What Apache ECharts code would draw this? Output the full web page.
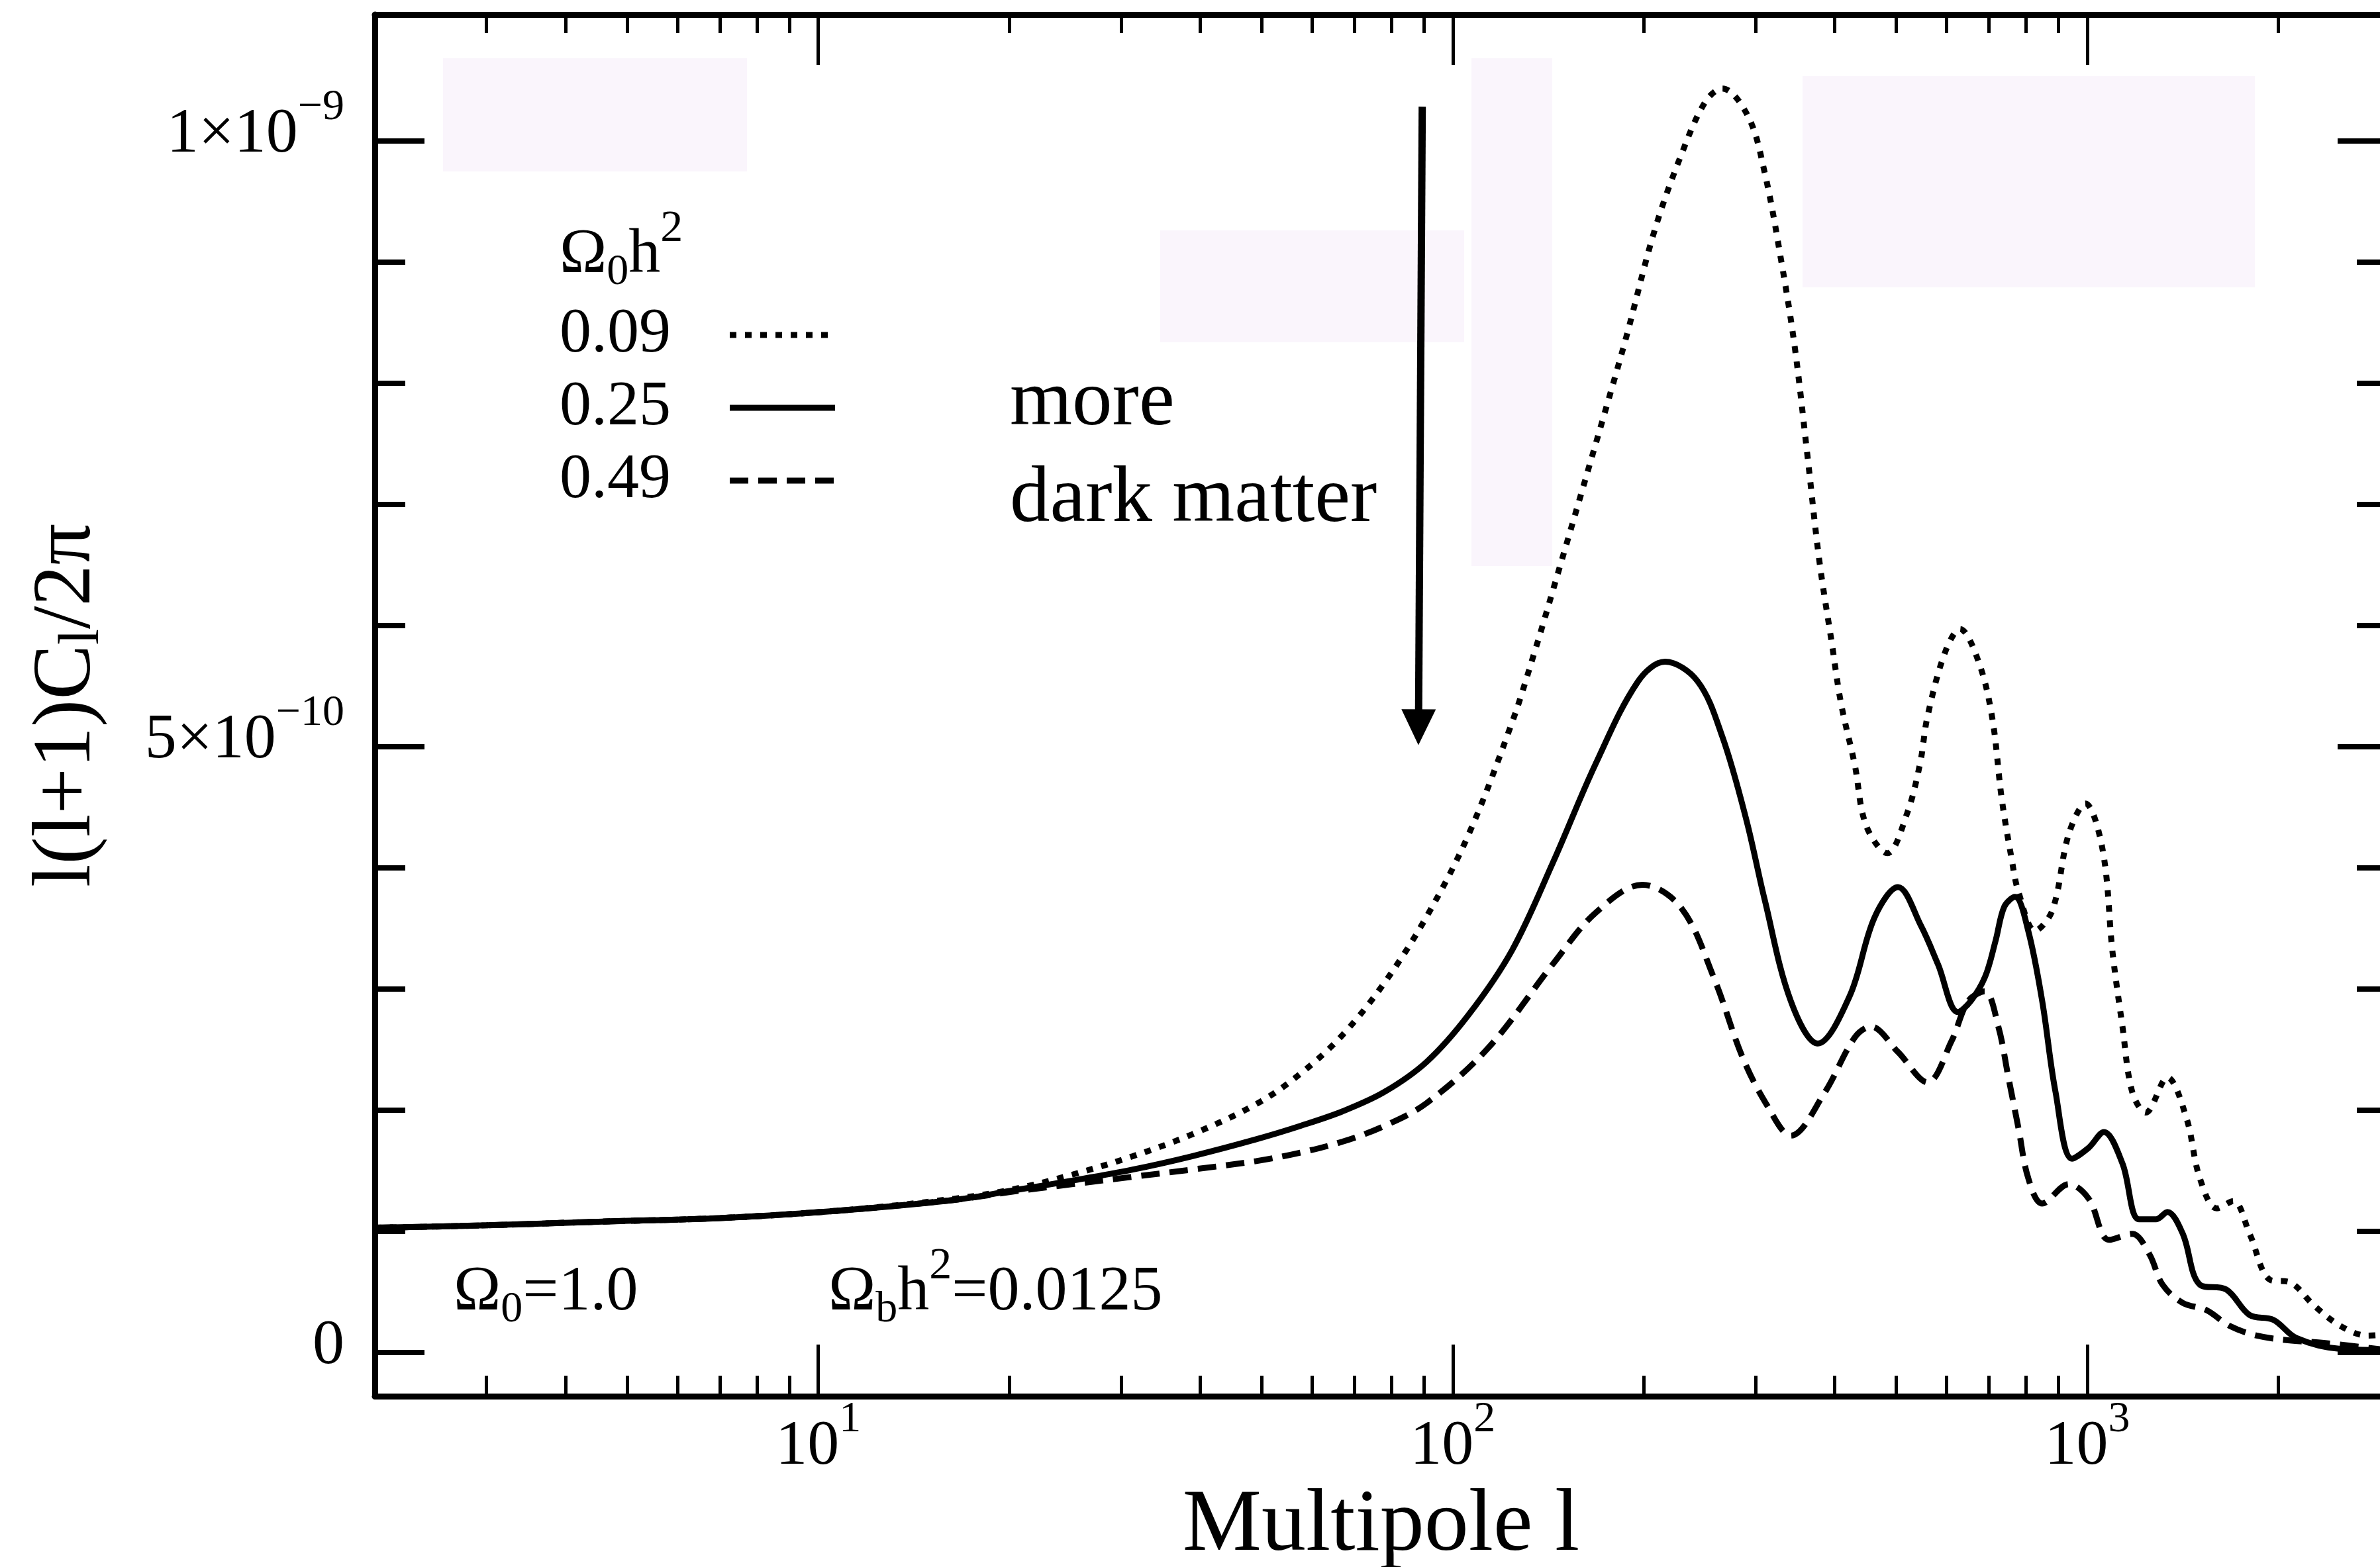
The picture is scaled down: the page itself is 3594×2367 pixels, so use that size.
<!DOCTYPE html>
<html><head><meta charset="utf-8">
<script src="https://cdn.jsdelivr.net/npm/echarts@6/dist/echarts.min.js"></script>
<style>html,body{margin:0;padding:0;background:#fff}#c{width:3594px;height:2367px}</style>
</head><body><div id="c"></div>
<script>
const FONT = '"Liberation Serif","Times New Roman",serif';

// ---- data: multipole l, l(l+1)C_l/2pi in units of 1e-10 ----
const seriesNames = ['0.09', '0.25', '0.49'];
const curve009 = [[2,1.03],[3,1.05],[4.5,1.08],[7,1.11],[10.7,1.17],[16.4,1.27],[20.4,1.35],[25.2,1.47],[31.3,1.62],[38.8,1.8],[49,2.05],[57.5,2.3],[67,2.62],[78,3.05],[91,3.6],[106,4.28],[124,5.2],[134,5.75],[144,6.3],[168,7.5],[187,8.35],[208,9.26],[229,9.88],[250,10.32],[266,10.43],[292,10.2],[310,9.74],[330,8.98],[346,8.29],[362,7.41],[378,6.54],[396,5.84],[409,5.36],[430,4.85],[448,4.35],[484,4.12],[520,4.45],[545,4.86],[560,5.25],[597,5.78],[630,5.97],[674,5.7],[708,5.24],[733,4.57],[760,4.07],[779,3.8],[827,3.48],[881,3.65],[935,4.28],[993,4.53],[1057,4.15],[1096,3.3],[1136,2.69],[1177,2.15],[1236,1.98],[1337,2.27],[1432,1.94],[1504,1.44],[1600,1.19],[1699,1.25],[1802,0.98],[1941,0.6],[2085,0.58],[2275,0.39],[2505,0.22],[2765,0.14],[2970,0.15]];
const curve025 = [[2,1.03],[3,1.05],[4.5,1.08],[7,1.11],[10.7,1.17],[16.4,1.26],[20.4,1.34],[25.2,1.42],[31.3,1.51],[38.8,1.62],[49,1.76],[57.5,1.87],[67,1.99],[78,2.15],[91,2.4],[106,2.79],[124,3.32],[144,4.05],[168,4.86],[196,5.54],[216,5.7],[243,5.54],[266,5.08],[290,4.4],[310,3.74],[341,2.9],[376,2.55],[422,2.94],[462,3.59],[503,3.84],[547,3.52],[582,3.2],[625,2.81],[655,2.9],[690,3.1],[717,3.4],[740,3.68],[769,3.76],[807,3.48],[849,2.9],[891,2.15],[946,1.6],[1005,1.69],[1062,1.82],[1136,1.56],[1206,1.1],[1284,1.1],[1337,1.16],[1414,0.98],[1504,0.56],[1656,0.52],[1802,0.31],[1965,0.27],[2136,0.12],[2505,0.03],[2970,0.02]];
const curve049 = [[2,1.03],[3,1.05],[4.5,1.08],[7,1.11],[10.7,1.17],[16.4,1.26],[20.4,1.33],[25.2,1.39],[31.3,1.45],[38.8,1.51],[49,1.58],[57.5,1.65],[67,1.74],[78,1.87],[91,2.06],[114,2.52],[144,3.21],[168,3.63],[199,3.86],[229,3.67],[258,3.09],[286,2.44],[312,2.05],[341,1.79],[385,2.14],[430,2.6],[456,2.69],[503,2.48],[560,2.23],[611,2.57],[649,2.9],[689,2.98],[724,2.69],[751,2.27],[779,1.85],[807,1.44],[849,1.23],[935,1.39],[1005,1.27],[1082,0.93],[1177,0.98],[1253,0.81],[1314,0.56],[1414,0.41],[1541,0.35],[1676,0.22],[1849,0.14],[2085,0.1],[2358,0.08],[2970,0.02]];

// ---- axes / ticks ----
const xMin = 2, xMax = 2970;
const yMin = -0.36, yMax = 11.04;
const xMajorTicks = [10, 100, 1000];
const xMinorTicks = [2,3,4,5,6,7,8,9,20,30,40,50,60,70,80,90,200,300,400,500,600,700,800,900,2000];
const yMajorTicks = [0, 5, 10];
const yMinorTicks = [1,2,3,4,6,7,8,9];
const yTickMantissa = ['0', '5×10', '1×10'];
const yTickExponent = ['', '−10', '−9'];
const arrowFrom = [89.5, 10.28];
const arrowTo = [88.3, 5.16];

const chart = echarts.init(document.getElementById('c'), null, {renderer: 'canvas', width: 3594, height: 2367});

function xAx(pos, ticks, len, showLine, showLabel) {
  return {
    type: 'log', logBase: 10, position: pos, min: xMin, max: xMax, gridIndex: 0,
    axisLine: {show: showLine, onZero: false, lineStyle: {color: '#000', width: 9}},
    axisTick: {show: true, inside: true, length: len, customValues: ticks, lineStyle: {color: '#000', width: 5}},
    axisLabel: {
      show: showLabel, customValues: xMajorTicks, margin: 3,
      formatter: v => '{b|10}{s|' + Math.round(Math.log10(v)) + '}',
      rich: {
        b: {fontSize: 96, fontFamily: FONT, color: '#000'},
        s: {fontSize: 66, fontFamily: FONT, color: '#000', padding: [0, 0, 82, 0]}
      }
    },
    splitLine: {show: false}, minorTick: {show: false}, minorSplitLine: {show: false}
  };
}
function yAx(pos, ticks, len, showLine, showLabel) {
  return {
    type: 'value', position: pos, min: yMin, max: yMax, gridIndex: 0,
    axisLine: {show: showLine, onZero: false, lineStyle: {color: '#000', width: 9}},
    axisTick: {show: true, inside: true, length: len, customValues: ticks, lineStyle: {color: '#000', width: 8}},
    axisLabel: {
      show: showLabel, customValues: yMajorTicks, margin: 46,
      formatter: v => {
        const i = yMajorTicks.indexOf(Math.round(v));
        return yTickExponent[i] ? '{b|' + yTickMantissa[i] + '}{s|' + yTickExponent[i] + '}' : '{b|' + yTickMantissa[i] + '}';
      },
      rich: {
        b: {fontSize: 96, fontFamily: FONT, color: '#000', padding: [0, 0, 18, 0]},
        s: {fontSize: 66, fontFamily: FONT, color: '#000', padding: [0, 0, 100, 0]}
      }
    },
    splitLine: {show: false}
  };
}

const yName = Object.assign(yAx('left', yMajorTicks, 75, true, true), {
  name: '{a|l(l+1)C}{s|l}{a|/2π}',
  nameLocation: 'middle', nameRotate: 90, nameGap: 398,
  nameTextStyle: {
    fontSize: 124, fontFamily: FONT, color: '#000',
    rich: {
      a: {fontSize: 124, fontFamily: FONT, color: '#000'},
      s: {fontSize: 86, fontFamily: FONT, color: '#000', padding: [46, 0, 0, 0]}
    }
  }
});
const xName = Object.assign(xAx('bottom', xMajorTicks, 78, true, true), {
  name: 'Multipole l', nameLocation: 'middle', nameGap: 126,
  nameTextStyle: {fontSize: 134, fontFamily: FONT, color: '#000'}
});

const annRich = {
  a: {fontSize: 96, fontFamily: FONT, fill: '#000'},
  sub: {fontSize: 66, fontFamily: FONT, fill: '#000', padding: [52, 0, 0, 0]},
  sup: {fontSize: 68, fontFamily: FONT, fill: '#000', padding: [0, 0, 80, 0]}
};
function ann(x, y, text) {
  return {type: 'text', x: x, y: y, z: 10, silent: true,
    style: {text: text, rich: annRich, fontSize: 96, fontFamily: FONT, fill: '#000', align: 'left', verticalAlign: 'middle'}};
}
const PINK = '#faf5fc';
function rect(x1, y1, x2, y2) {
  return {type: 'rect', z: -10, silent: true, shape: {x: x1, y: y1, width: x2 - x1, height: y2 - y1}, style: {fill: PINK}};
}

function lineSeries(name, data, type, width) {
  return {
    name: name, type: 'line', data: data, xAxisIndex: 0, yAxisIndex: 0,
    smooth: 0.35, symbol: 'none', showSymbol: false, clip: true,
    emphasis: {disabled: true},
    itemStyle: {color: '#000'},
    lineStyle: {color: '#000', width: width, type: type, cap: 'butt'}
  };
}

const s009 = lineSeries(seriesNames[0], curve009, [10, 13], 9);
const s025 = lineSeries(seriesNames[1], curve025, 'solid', 9);
const s049 = lineSeries(seriesNames[2], curve049, [28, 15], 9);
s025.markLine = {
  silent: true, symbol: ['none', 'triangle'], symbolSize: [52, 54],
  lineStyle: {type: 'solid', width: 11, color: '#000'},
  itemStyle: {color: '#000'},
  label: {show: false}, emphasis: {disabled: true}, animation: false,
  data: [[{coord: arrowFrom}, {coord: arrowTo}]]
};

const option = {
  animation: false,
  backgroundColor: '#fff',
  textStyle: {fontFamily: FONT, color: '#000'},
  grid: {left: 566, top: 22, width: 3039, height: 2087, containLabel: false, outerBoundsMode: 'none', show: false},
  legend: {
    data: seriesNames, orient: 'vertical', left: 845, top: 458, align: 'right',
    itemWidth: 159, itemHeight: 30, itemGap: 14, padding: 0, selectedMode: false,
    textStyle: {fontSize: 96, fontFamily: FONT, color: '#000', padding: [0, 84, 0, 0]},
    itemStyle: {opacity: 0, borderWidth: 0},
    lineStyle: {width: 9, cap: 'butt', color: '#000'}
  },
  xAxis: [
    xName,
    xAx('bottom', xMinorTicks, 31, false, false),
    xAx('top', xMajorTicks, 76, true, false),
    xAx('top', xMinorTicks, 28, false, false)
  ],
  yAxis: [
    yName,
    yAx('left', yMinorTicks, 46, false, false),
    yAx('right', yMajorTicks, 75, true, false),
    yAx('right', yMinorTicks, 46, false, false)
  ],
  series: [s049, s025, s009],
  graphic: [
    rect(669, 88, 1128, 259),
    rect(1752, 348, 2211, 517),
    rect(2222, 88, 2344, 855),
    rect(2722, 115, 3405, 434),
    ann(845, 386, '{a|Ω}{sub|0}{a|h}{sup|2}'),
    ann(685, 1953, '{a|Ω}{sub|0}{a|=1.0}'),
    ann(1251, 1953, '{a|Ω}{sub|b}{a|h}{sup|2}{a|=0.0125}'),
    {type: 'text', x: 1525, y: 609, z: 10, silent: true, style: {text: 'more', fontSize: 121, fontFamily: FONT, fill: '#000', verticalAlign: 'middle'}},
    {type: 'text', x: 1525, y: 755, z: 10, silent: true, style: {text: 'dark matter', fontSize: 121, fontFamily: FONT, fill: '#000', verticalAlign: 'middle'}}
  ]
};
chart.setOption(option);
</script>
</body></html>
